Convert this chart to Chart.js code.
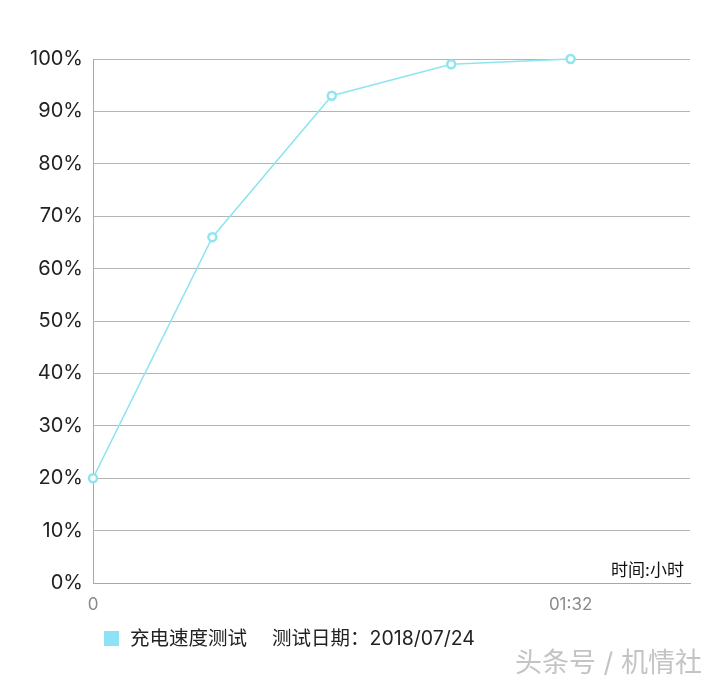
<!DOCTYPE html>
<html>
<head>
<meta charset="utf-8">
<script src="https://cdn.jsdelivr.net/npm/chart.js@4"></script>
<style>
  html, body { margin: 0; padding: 0; background: #fff; }
</style>
</head>
<body>
<canvas id="myChart" width="720" height="687"></canvas>
<script>
// x categories (only start and end time are labelled on the axis)
var timeLabels = ["0", "", "", "", "01:32", ""];
// battery percentage at each step
var chargeValues = [20, 66, 93, 99, 100, null];
var seriesName = "充电速度测试";
var testDate = "测试日期：2018/07/24";
var axisNote = "时间:小时";
var watermark = "头条号 / 机情社";

var lineColor = 'rgb(142, 229, 240)';
var fontFamily = 'Inter, "Noto Sans CJK SC", sans-serif';

// draws the legend line, axis note and watermark
var extraText = {
    id: 'extraText',
    afterDraw: function(chart) {
        var c = chart.ctx;
        var area = chart.chartArea;
        c.save();
        c.textBaseline = 'middle';

        c.fillStyle = '#111';
        c.font = '17px ' + fontFamily;
        c.textAlign = 'right';
        c.fillText(axisNote, area.right - 6, area.bottom - 12);

        // legend
        c.fillStyle = 'rgb(141, 227, 245)';
        c.fillRect(104, 631, 15, 15);
        c.fillStyle = '#222';
        c.font = '19.5px ' + fontFamily;
        c.textAlign = 'left';
        c.fillText(seriesName, 130, 639);
        c.font = '19.5px ' + fontFamily;
        c.fillText(testDate, 272, 639);

        // watermark
        c.font = '27px ' + fontFamily;
        c.fillStyle = '#fff';
        c.fillText(watermark, 516, 665);
        c.fillStyle = '#c4c4c4';
        c.fillText(watermark, 515, 664);
        c.restore();
    }
};

var ctx = document.getElementById('myChart').getContext('2d');
var chart = new Chart(ctx, {
    type: 'line',
    data: {
        labels: timeLabels,
        datasets: [{
            label: seriesName,
            data: chargeValues,
            borderColor: lineColor,
            backgroundColor: '#fff',
            borderWidth: 1.5,
            pointRadius: 4,
            pointBorderWidth: 2.5,
            pointBackgroundColor: '#fff',
            pointBorderColor: lineColor,
            clip: false,
            tension: 0
        }]
    },
    options: {
        responsive: false,
        animation: false,
        layout: {
            padding: { top: 59, right: 30, bottom: 74, left: 0 }
        },
        plugins: {
            legend: { display: false },
            tooltip: { enabled: false }
        },
        scales: {
            x: {
                offset: false,
                grid: { display: false },
                border: { display: true, color: '#a8a8a8' },
                afterFit: function(scale) { scale.height = 30; },
                ticks: {
                    autoSkip: false,
                    maxRotation: 0,
                    padding: 4,
                    color: '#8a8a8a',
                    font: { family: fontFamily, size: 17 }
                }
            },
            y: {
                min: 0,
                max: 100,
                afterFit: function(scale) { scale.width = 93; },
                grid: { color: '#b4b4b4', drawTicks: false },
                border: { display: true, color: '#a8a8a8' },
                ticks: {
                    stepSize: 10,
                    padding: 10,
                    color: '#222',
                    font: { family: fontFamily, size: 20 },
                    callback: function(v) { return v + '%'; }
                }
            }
        }
    },
    plugins: [extraText]
});
</script>
</body>
</html>
